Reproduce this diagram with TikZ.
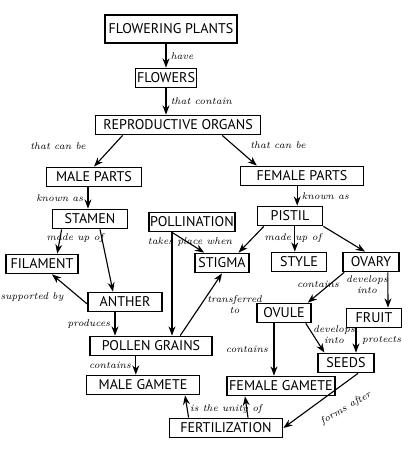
\documentclass[tikz,border=0pt]{standalone}
\usepackage{fontspec}
\setsansfont{PT Sans}
\usetikzlibrary{arrows.meta}

\begin{document}
\begin{tikzpicture}[x=0.025cm,y=-0.025cm,>=Stealth,line width=0.8pt,
  concept/.style={draw,line width=1.1pt,minimum height=0.48cm,inner sep=1pt,font=\sffamily},
  link/.style={font=\itshape\scriptsize,inner sep=1pt,align=center}]
\useasboundingbox (0,0) rectangle (413,452);
% concepts
\node[concept,minimum width=3.3cm,minimum height=0.7cm] (fp) at (171,29) {FLOWERING PLANTS};
\node[concept,minimum width=1.53cm] (flowers) at (166,78) {FLOWERS};
\node[concept,minimum width=4.13cm] (organs) at (178,125) {REPRODUCTIVE ORGANS};
\node[concept,minimum width=2.38cm] (male) at (94,177) {MALE PARTS};
\node[concept,minimum width=3.08cm] (female) at (302,176) {FEMALE PARTS};
\node[concept,minimum width=1.88cm] (stamen) at (90,219) {STAMEN};
\node[concept,minimum width=1.63cm] (pistil) at (290,216) {PISTIL};
\node[concept,minimum width=2.08cm] (poll) at (192,222) {POLLINATION};
\node[concept,minimum width=1.8cm] (filament) at (42,264) {FILAMENT};
\node[concept,minimum width=1.35cm] (stigma) at (222,263) {STIGMA};
\node[concept,minimum width=1.38cm] (styl) at (299,262) {STYLE};
\node[concept,minimum width=1.4cm] (ovary) at (371,262) {OVARY};
\node[concept,minimum width=1.85cm] (anther) at (125,302) {ANTHER};
\node[concept,minimum width=1.35cm] (ovule) at (284,313) {OVULE};
\node[concept,minimum width=1.38cm] (fruit) at (374,318) {FRUIT};
\node[concept,minimum width=3.05cm] (pollen) at (151,346) {POLLEN GRAINS};
\node[concept,minimum width=1.4cm] (seeds) at (346,363) {SEEDS};
\node[concept,minimum width=2.83cm] (mgam) at (143,385) {MALE GAMETE};
\node[concept,minimum width=2.7cm] (fgam) at (281,386) {FEMALE GAMETE};
\node[concept,minimum width=2.83cm] (fert) at (226,428) {FERTILIZATION};
% links
\draw[->] (flowers|-fp.south) -- node[link,right=2pt] {have} (flowers.north);
\draw[->] (flowers.south) -- node[link,right=2pt] {that contain} (flowers|-organs.north);
\draw[->] ([xshift=0.7cm]organs.south west) -- (male.north);
\node[link] at (58,146) {that can be};
\draw[->] ([xshift=-0.98cm]organs.south east) -- ([xshift=0.43cm]female.north west);
\node[link] at (278,145) {that can be};
\draw[->] ([xshift=-0.15cm]male.south) -- node[link,left=2pt] {known as} ([xshift=-0.15cm]male.south|-stamen.north);
\draw[->] ([xshift=0.18cm]pistil.north|-female.south) -- node[link,right=2pt] {known as} ([xshift=0.18cm]pistil.north);
\draw[->] ([xshift=0.25cm]stamen.south west) -- ([xshift=0.38cm]filament.north);
\draw[->] ([xshift=0.25cm]stamen.south) -- ([xshift=-0.3cm]anther.north);
\node[link] at (75,238) {made up of};
\draw[->] ([yshift=-0.05cm]anther.west) -- ([xshift=0.25cm]filament.south);
\node[link] at (32,297) {supported by};
\draw[->] ([xshift=-0.25cm]anther.south) -- node[link,left=2pt] {produces} ([xshift=-0.25cm]anther.south|-pollen.north);
\draw[->] ([xshift=-0.38cm]pollen.south) -- node[link,left=2pt] {contains} ([xshift=-0.38cm]pollen.south|-mgam.north);
\draw[->] ([xshift=-0.5cm]poll.south) -- ([xshift=0.25cm]stigma.north west);
\node[link] at (190,242) {takes place when};
\draw[->] ([xshift=-0.5cm]poll.south) -- ([xshift=-0.5cm]poll.south|-pollen.north);
\draw[->] ([xshift=0.73cm]pollen.north) -- node[link,right=3pt,pos=0.5] {transferred\\to} (stigma.south);
\draw[->] ([xshift=0.18cm]pistil.south west) -- ([xshift=-0.28cm]stigma.north east);
\node[link] at (293,238) {made up of};
\draw[->] ([xshift=0.12cm]pistil.south) -- ([xshift=0.12cm]pistil.south|-styl.north);
\draw[->] (pistil.south east) -- ([xshift=-0.15cm]ovary.north);
\draw[->] ([xshift=0.05cm]ovary.south west) -- ([xshift=-0.1cm]ovule.north east);
\node[link] at (318,284) {contains};
\draw[->] ([xshift=0.42cm]ovary.south) -- ([xshift=0.35cm]fruit.north);
\node[link] at (367,285) {develops\\into};
\draw[->] ([xshift=-0.15cm]ovule.south east) -- ([xshift=0.18cm]seeds.north west);
\node[link] at (334,335) {develops\\into};
\draw[->] ([xshift=-0.45cm]fruit.south) -- node[link,right=3pt] {protects} ([xshift=-0.45cm]fruit.south|-seeds.north);
\draw[->] ([xshift=-0.25cm]ovule.south) -- node[link,left=3pt] {contains} ([xshift=-0.25cm]ovule.south|-fgam.north);
\draw[->] ([xshift=0.5cm]fert.north west) -- ([xshift=1.05cm]mgam.south);
\draw[->] ([xshift=0.55cm]fert.north) -- ([xshift=-0.9cm]fgam.south);
\node[link] at (226,409) {is the unity of};
\draw[->] ([xshift=0.3cm]seeds.south) -- (fert.east);
\node[link,rotate=30] at (346,408) {forms after};
\end{tikzpicture}
\end{document}
